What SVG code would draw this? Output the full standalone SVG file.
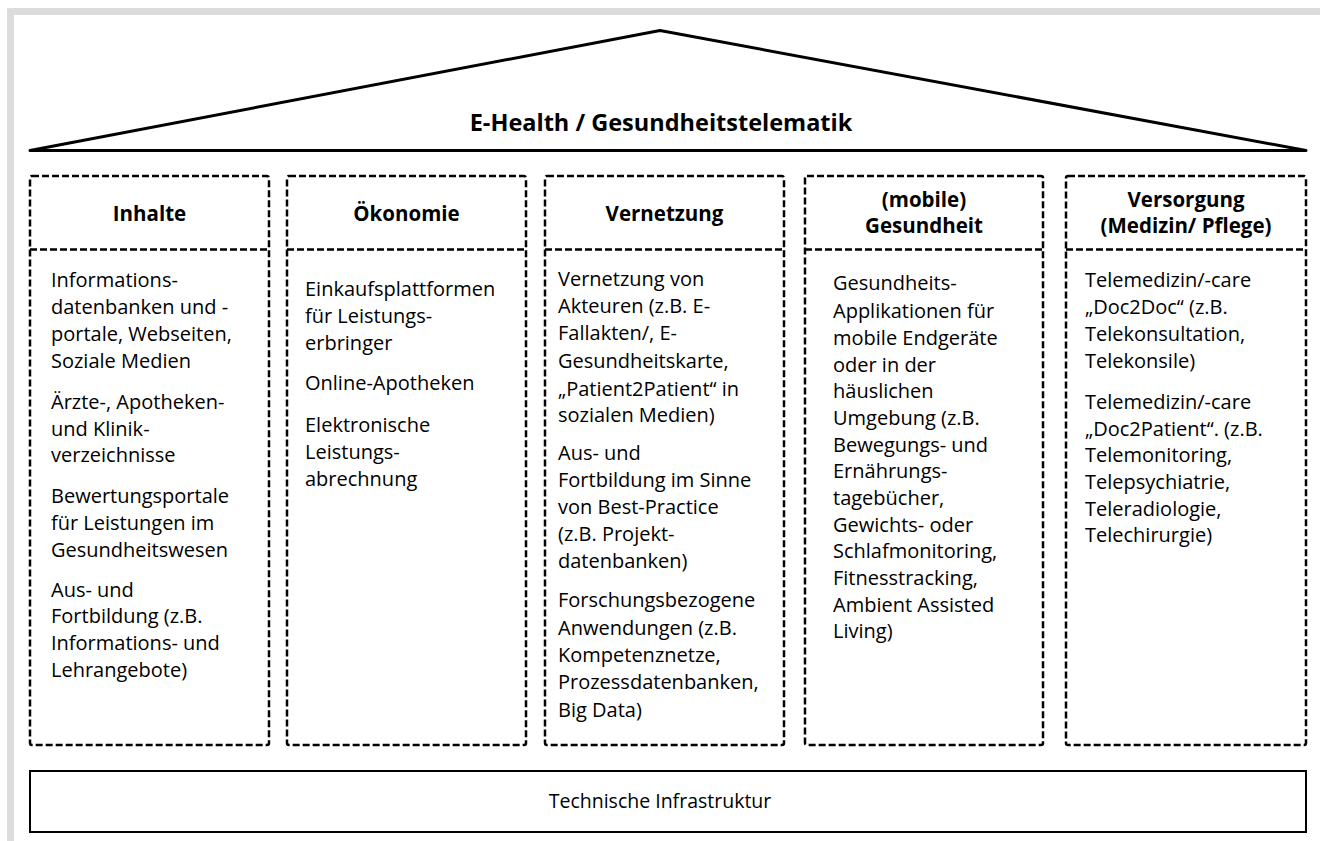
<svg xmlns="http://www.w3.org/2000/svg" width="1320" height="841" viewBox="0 0 1320 841">
<style>
.frame{fill:#dcdcdc}
.roof{fill:none;stroke:#000;stroke-width:3;stroke-linejoin:round}
.col{fill:#fff;stroke:#000;stroke-width:2.5;stroke-dasharray:7 3}
.sep{stroke:#000;stroke-width:2.5;stroke-dasharray:7 3}
.base{fill:#fff;stroke:#000;stroke-width:2}
text{font-family:"Open Sans","Noto Sans","Liberation Sans",sans-serif;fill:#000}
.title{font-size:23.5px;font-weight:bold;text-anchor:middle}
.hd{font-size:20.5px;font-weight:bold;text-anchor:middle}
.bd{font-size:20px}
.infra{font-size:19.5px;text-anchor:middle}
</style>
<rect width="1320" height="841" fill="#fff"/>
<rect class="frame" x="7" y="8" width="1313" height="7"/>
<rect class="frame" x="7" y="8" width="7" height="833"/>
<g id="roof">
<path class="roof" d="M30,150.5 L660,30.5 L1306,150.5 Z"/>
<text class="title" x="661" y="131">E-Health / Gesundheitstelematik</text>
</g>
<g id="inhalte">
<rect class="col" x="30" y="176" width="239" height="569" rx="2"/>
<line class="sep" x1="30" y1="249.5" x2="269" y2="249.5"/>
<text class="hd" x="149.5" y="221">Inhalte</text>
<text class="bd">
<tspan x="51" y="287">Informations-</tspan>
<tspan x="51" y="314">datenbanken und -</tspan>
<tspan x="51" y="341">portale, Webseiten,</tspan>
<tspan x="51" y="368">Soziale Medien</tspan>
<tspan x="51" y="409">Ärzte-, Apotheken-</tspan>
<tspan x="51" y="435.5">und Klinik-</tspan>
<tspan x="51" y="462">verzeichnisse</tspan>
<tspan x="51" y="503">Bewertungsportale</tspan>
<tspan x="51" y="529.5">für Leistungen im</tspan>
<tspan x="51" y="556.5">Gesundheitswesen</tspan>
<tspan x="51" y="596.5">Aus- und</tspan>
<tspan x="51" y="623">Fortbildung (z.B.</tspan>
<tspan x="51" y="650">Informations- und</tspan>
<tspan x="51" y="676.5">Lehrangebote)</tspan>
</text>
</g>
<g id="oekonomie">
<rect class="col" x="287" y="176" width="239" height="569" rx="2"/>
<line class="sep" x1="287" y1="249.5" x2="526" y2="249.5"/>
<text class="hd" x="406.5" y="221">Ökonomie</text>
<text class="bd">
<tspan x="305" y="295.5">Einkaufsplattformen</tspan>
<tspan x="305" y="322.5">für Leistungs-</tspan>
<tspan x="305" y="349.5">erbringer</tspan>
<tspan x="305" y="390">Online-Apotheken</tspan>
<tspan x="305" y="431.5">Elektronische</tspan>
<tspan x="305" y="458.5">Leistungs-</tspan>
<tspan x="305" y="485.5">abrechnung</tspan>
</text>
</g>
<g id="vernetzung">
<rect class="col" x="545" y="176" width="239" height="569" rx="2"/>
<line class="sep" x1="545" y1="249.5" x2="784" y2="249.5"/>
<text class="hd" x="664.5" y="221">Vernetzung</text>
<text class="bd">
<tspan x="558" y="285.5">Vernetzung von</tspan>
<tspan x="558" y="313">Akteuren (z.B. E-</tspan>
<tspan x="558" y="340">Fallakten/, E-</tspan>
<tspan x="558" y="368">Gesundheitskarte,</tspan>
<tspan x="558" y="395.5">„Patient2Patient“ in</tspan>
<tspan x="558" y="422">sozialen Medien)</tspan>
<tspan x="558" y="460">Aus- und</tspan>
<tspan x="558" y="487">Fortbildung im Sinne</tspan>
<tspan x="558" y="513.5">von Best-Practice</tspan>
<tspan x="558" y="540.5">(z.B. Projekt-</tspan>
<tspan x="558" y="568">datenbanken)</tspan>
<tspan x="558" y="607">Forschungsbezogene</tspan>
<tspan x="558" y="634.5">Anwendungen (z.B.</tspan>
<tspan x="558" y="661.5">Kompetenznetze,</tspan>
<tspan x="558" y="689">Prozessdatenbanken,</tspan>
<tspan x="558" y="716.5">Big Data)</tspan>
</text>
</g>
<g id="mobile">
<rect class="col" x="805" y="176" width="238" height="569" rx="2"/>
<line class="sep" x1="805" y1="249.5" x2="1043" y2="249.5"/>
<text class="hd"><tspan x="924" y="207">(mobile)</tspan><tspan x="924" y="233">Gesundheit</tspan></text>
<text class="bd">
<tspan x="833" y="290">Gesundheits-</tspan>
<tspan x="833" y="317.5">Applikationen für</tspan>
<tspan x="833" y="344.5">mobile Endgeräte</tspan>
<tspan x="833" y="371.5">oder in der</tspan>
<tspan x="833" y="398">häuslichen</tspan>
<tspan x="833" y="425">Umgebung (z.B.</tspan>
<tspan x="833" y="451.5">Bewegungs- und</tspan>
<tspan x="833" y="478">Ernährungs-</tspan>
<tspan x="833" y="505">tagebücher,</tspan>
<tspan x="833" y="531.5">Gewichts- oder</tspan>
<tspan x="833" y="558">Schlafmonitoring,</tspan>
<tspan x="833" y="585">Fitnesstracking,</tspan>
<tspan x="833" y="611.5">Ambient Assisted</tspan>
<tspan x="833" y="638">Living)</tspan>
</text>
</g>
<g id="versorgung">
<rect class="col" x="1066" y="176" width="240" height="569" rx="2"/>
<line class="sep" x1="1066" y1="249.5" x2="1306" y2="249.5"/>
<text class="hd"><tspan x="1186" y="207">Versorgung</tspan><tspan x="1186" y="233">(Medizin/ Pflege)</tspan></text>
<text class="bd">
<tspan x="1085" y="287">Telemedizin/-care</tspan>
<tspan x="1085" y="314">„Doc2Doc“ (z.B.</tspan>
<tspan x="1085" y="341">Telekonsultation,</tspan>
<tspan x="1085" y="368">Telekonsile)</tspan>
<tspan x="1085" y="409">Telemedizin/-care</tspan>
<tspan x="1085" y="435.5">„Doc2Patient“. (z.B.</tspan>
<tspan x="1085" y="462">Telemonitoring,</tspan>
<tspan x="1085" y="489">Telepsychiatrie,</tspan>
<tspan x="1085" y="515.5">Teleradiologie,</tspan>
<tspan x="1085" y="542">Telechirurgie)</tspan>
</text>
</g>
<g id="infrastruktur">
<rect class="base" x="30" y="771" width="1276" height="61"/>
<text class="infra" x="660" y="808">Technische Infrastruktur</text>
</g>
<g id="connectors"></g>
</svg>
